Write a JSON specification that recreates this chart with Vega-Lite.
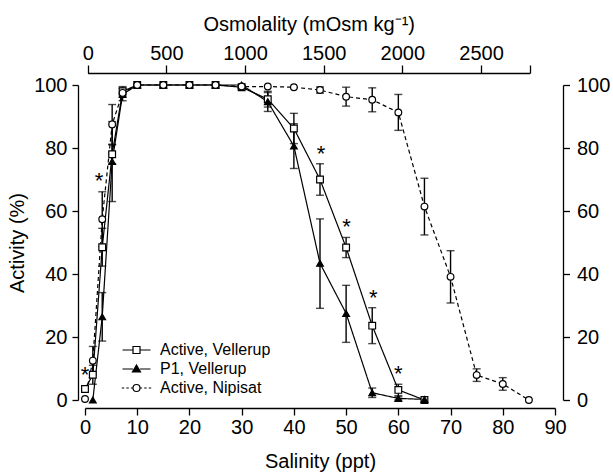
{
  "$schema": "https://vega.github.io/schema/vega-lite/v6.json",
  "width": 470,
  "height": 315,
  "autosize": {"type": "none"},
  "padding": {"left": 85, "top": 85, "right": 58, "bottom": 74},
  "background": "white",
  "config": {
    "view": {"stroke": null},
    "font": "Liberation Sans",
    "axis": {
      "grid": false,
      "labelFont": "Liberation Sans",
      "titleFont": "Liberation Sans",
      "labelFontSize": 20,
      "titleFontSize": 20,
      "titleFontWeight": "normal",
      "labelColor": "black",
      "titleColor": "black",
      "domainColor": "black",
      "tickColor": "black",
      "domainWidth": 1.3,
      "tickWidth": 1.3,
      "labelFlush": false,
      "labelOverlap": false
    },
    "legend": {
      "orient": "none",
      "legendX": 43.5,
      "legendY": 257,
      "title": null,
      "padding": 0,
      "labelFont": "Liberation Sans",
      "labelFontSize": 16,
      "labelColor": "black",
      "labelOffset": 15.5,
      "symbolSize": 49,
      "symbolStrokeColor": "black",
      "symbolStrokeWidth": 1.2,
      "symbolOpacity": 1,
      "rowPadding": 3
    }
  },
  "datasets": {
    "main": [
      {"series": "Active, Vellerup", "s": 0, "a": 3.5, "lo": 2.5, "hi": 4.5},
      {"series": "Active, Vellerup", "s": 1.5, "a": 8, "lo": 5, "hi": 11},
      {"series": "Active, Vellerup", "s": 3.3, "a": 48.5, "lo": 42.5, "hi": 54.5},
      {"series": "Active, Vellerup", "s": 5.2, "a": 78, "lo": 75, "hi": 81},
      {"series": "Active, Vellerup", "s": 7.2, "a": 98, "lo": 96.5, "hi": 99.5},
      {"series": "Active, Vellerup", "s": 10, "a": 100, "lo": null, "hi": null},
      {"series": "Active, Vellerup", "s": 15, "a": 100, "lo": null, "hi": null},
      {"series": "Active, Vellerup", "s": 20, "a": 100, "lo": null, "hi": null},
      {"series": "Active, Vellerup", "s": 25, "a": 100, "lo": null, "hi": null},
      {"series": "Active, Vellerup", "s": 30, "a": 99.3, "lo": 98.8, "hi": 99.8},
      {"series": "Active, Vellerup", "s": 35, "a": 95.5, "lo": 93, "hi": 98},
      {"series": "Active, Vellerup", "s": 40, "a": 86.2, "lo": 81.4, "hi": 91},
      {"series": "Active, Vellerup", "s": 45, "a": 70, "lo": 65, "hi": 75},
      {"series": "Active, Vellerup", "s": 50, "a": 48.4, "lo": 45.2, "hi": 51.6},
      {"series": "Active, Vellerup", "s": 55, "a": 23.6, "lo": 17.9, "hi": 29.3},
      {"series": "Active, Vellerup", "s": 60, "a": 3.2, "lo": 1.4, "hi": 5},
      {"series": "Active, Vellerup", "s": 65, "a": 0, "lo": null, "hi": null},
      {"series": "P1, Vellerup", "s": 1.5, "a": 0, "lo": null, "hi": null},
      {"series": "P1, Vellerup", "s": 3.3, "a": 26.4, "lo": 18.7, "hi": 34.1},
      {"series": "P1, Vellerup", "s": 5.2, "a": 75.7, "lo": 63, "hi": 88.4},
      {"series": "P1, Vellerup", "s": 7.2, "a": 97, "lo": 95, "hi": 99},
      {"series": "P1, Vellerup", "s": 10, "a": 100, "lo": null, "hi": null},
      {"series": "P1, Vellerup", "s": 15, "a": 100, "lo": null, "hi": null},
      {"series": "P1, Vellerup", "s": 20, "a": 100, "lo": null, "hi": null},
      {"series": "P1, Vellerup", "s": 25, "a": 100, "lo": null, "hi": null},
      {"series": "P1, Vellerup", "s": 30, "a": 100, "lo": null, "hi": null},
      {"series": "P1, Vellerup", "s": 35, "a": 94.7, "lo": 91.6, "hi": 97.6},
      {"series": "P1, Vellerup", "s": 40, "a": 80.6, "lo": 73.5, "hi": 87.7},
      {"series": "P1, Vellerup", "s": 45, "a": 43.4, "lo": 29.1, "hi": 57.5},
      {"series": "P1, Vellerup", "s": 50, "a": 27.5, "lo": 18.3, "hi": 36.4},
      {"series": "P1, Vellerup", "s": 55, "a": 2.3, "lo": 0.8, "hi": 3.8},
      {"series": "P1, Vellerup", "s": 60, "a": 0.5, "lo": 0, "hi": 1},
      {"series": "P1, Vellerup", "s": 65, "a": 0.2, "lo": null, "hi": null},
      {"series": "Active, Nipisat", "s": 0, "a": 0.3, "lo": null, "hi": null},
      {"series": "Active, Nipisat", "s": 1.5, "a": 12.5, "lo": 8, "hi": 17},
      {"series": "Active, Nipisat", "s": 3.3, "a": 57.4, "lo": 48.7, "hi": 66.1},
      {"series": "Active, Nipisat", "s": 5.2, "a": 87.5, "lo": 81.2, "hi": 93.8},
      {"series": "Active, Nipisat", "s": 7.2, "a": 97.5, "lo": null, "hi": null},
      {"series": "Active, Nipisat", "s": 10, "a": 100, "lo": null, "hi": null},
      {"series": "Active, Nipisat", "s": 15, "a": 100, "lo": null, "hi": null},
      {"series": "Active, Nipisat", "s": 20, "a": 100, "lo": null, "hi": null},
      {"series": "Active, Nipisat", "s": 25, "a": 100, "lo": null, "hi": null},
      {"series": "Active, Nipisat", "s": 30, "a": 99.5, "lo": null, "hi": null},
      {"series": "Active, Nipisat", "s": 35, "a": 99.5, "lo": null, "hi": null},
      {"series": "Active, Nipisat", "s": 40, "a": 99.3, "lo": null, "hi": null},
      {"series": "Active, Nipisat", "s": 45, "a": 98.4, "lo": 97.4, "hi": 99.4},
      {"series": "Active, Nipisat", "s": 50, "a": 96.3, "lo": 93.3, "hi": 99.3},
      {"series": "Active, Nipisat", "s": 55, "a": 95.3, "lo": 91.5, "hi": 99.1},
      {"series": "Active, Nipisat", "s": 60, "a": 91.3, "lo": 85.6, "hi": 97},
      {"series": "Active, Nipisat", "s": 65, "a": 61.4, "lo": 52.4, "hi": 70.4},
      {"series": "Active, Nipisat", "s": 70, "a": 39.1, "lo": 30.8, "hi": 47.4},
      {"series": "Active, Nipisat", "s": 75, "a": 7.9, "lo": 5.9, "hi": 9.9},
      {"series": "Active, Nipisat", "s": 80, "a": 5.1, "lo": 3.1, "hi": 7.1},
      {"series": "Active, Nipisat", "s": 85, "a": 0, "lo": null, "hi": null}
    ],
    "stars": [
      {"s": 0, "a": 9.5},
      {"s": 2.7, "a": 71},
      {"s": 45.2, "a": 79.6},
      {"s": 50.1, "a": 56.6},
      {"s": 55.2, "a": 33.9},
      {"s": 60, "a": 10}
    ]
  },
  "layer": [
    {
      "data": {"name": "main"},
      "mark": {"type": "line", "color": "black", "strokeWidth": 1.2},
      "encoding": {
        "x": {
          "field": "s", "type": "quantitative",
          "scale": {"domain": [0, 90], "nice": false, "zero": false},
          "axis": {"orient": "bottom", "offset": 8, "values": [0, 10, 20, 30, 40, 50, 60, 70, 80, 90], "tickSize": 7, "labelPadding": 2, "title": "Salinity (ppt)", "titlePadding": 14}
        },
        "y": {
          "field": "a", "type": "quantitative",
          "scale": {"domain": [0, 100], "nice": false},
          "axis": {"orient": "left", "offset": 7, "values": [0, 20, 40, 60, 80, 100], "tickSize": 6, "labelPadding": 5, "title": "Activity (%)", "titlePadding": 6}
        },
        "detail": {"field": "series"},
        "strokeDash": {
          "field": "series", "type": "nominal",
          "scale": {"domain": ["Active, Vellerup", "P1, Vellerup", "Active, Nipisat"], "range": [[1, 0], [1, 0], [4, 3]]},
          "legend": null
        }
      }
    },
    {
      "data": {"name": "main"},
      "transform": [{"filter": "isValid(datum.lo)"}],
      "mark": {"type": "errorbar", "ticks": true, "thickness": 1.4, "size": 8, "color": "black"},
      "encoding": {
        "x": {"field": "s", "type": "quantitative", "scale": {"domain": [0, 90], "nice": false, "zero": false}, "axis": null},
        "y": {"field": "lo", "type": "quantitative", "scale": {"domain": [0, 100], "nice": false}, "axis": null},
        "y2": {"field": "hi"}
      }
    },
    {
      "data": {"name": "main"},
      "mark": {"type": "point", "stroke": "black", "strokeWidth": 1.2, "size": 45, "opacity": 1},
      "encoding": {
        "x": {"field": "s", "type": "quantitative", "scale": {"domain": [0, 90], "nice": false, "zero": false}, "axis": null},
        "y": {
          "field": "a", "type": "quantitative",
          "scale": {"domain": [0, 100], "nice": false},
          "axis": {"orient": "right", "offset": 8, "values": [0, 20, 40, 60, 80, 100], "tickSize": 6.5, "labelPadding": 7, "title": null}
        },
        "shape": {
          "field": "series", "type": "nominal",
          "scale": {"domain": ["Active, Vellerup", "P1, Vellerup", "Active, Nipisat"], "range": ["square", "triangle-up", "circle"]},
          "legend": null
        },
        "fill": {
          "field": "series", "type": "nominal",
          "scale": {"domain": ["Active, Vellerup", "P1, Vellerup", "Active, Nipisat"], "range": ["white", "black", "white"]},
          "legend": null
        }
      }
    },
    {
      "data": {"name": "stars"},
      "mark": {"type": "text", "text": "*", "fontSize": 22, "font": "Liberation Sans", "baseline": "alphabetic", "dy": 12, "color": "black"},
      "encoding": {
        "x": {"field": "s", "type": "quantitative", "scale": {"domain": [0, 90], "nice": false, "zero": false}, "axis": null},
        "y": {"field": "a", "type": "quantitative", "scale": {"domain": [0, 100], "nice": false}, "axis": null}
      }
    },
    {
      "data": {"name": "main"},
      "transform": [{"filter": "false"}],
      "mark": {"type": "point", "stroke": "black", "strokeWidth": 1.2, "opacity": 1},
      "encoding": {
        "shape": {
          "field": "series", "type": "nominal",
          "scale": {"domain": ["Active, Vellerup", "P1, Vellerup", "Active, Nipisat"], "range": [
            "M-4,0H-1M1,0H4M-1,-1H1V1H-1Z",
            "M-4,0H-1M1,0H4M0,-1.15L1.15,0.85H-1.15Z",
            "M-4.2,0H-3.5M-2.9,0H-2.2M-1.6,0H-1M1,0H1.6M2.2,0H2.9M3.5,0H4.2M1,0A1,1,0,1,1,-1,0A1,1,0,1,1,1,0Z"
          ]},
          "legend": {"encode": {"symbols": {"update": {"stroke": {"value": "black"}, "strokeWidth": {"value": 1.2}, "opacity": {"value": 1}, "fillOpacity": {"value": 1}, "strokeOpacity": {"value": 1}}}}}
        },
        "fill": {
          "field": "series", "type": "nominal",
          "scale": {"domain": ["Active, Vellerup", "P1, Vellerup", "Active, Nipisat"], "range": ["white", "black", "white"]},
          "legend": {"encode": {"symbols": {"update": {"stroke": {"value": "black"}, "strokeWidth": {"value": 1.2}, "opacity": {"value": 1}, "fillOpacity": {"value": 1}, "strokeOpacity": {"value": 1}}}}}
        }
      }
    },
    {
      "data": {"name": "main"},
      "transform": [{"filter": "false"}],
      "mark": {"type": "point", "opacity": 0},
      "encoding": {
        "x": {
          "field": "osm", "type": "quantitative",
          "scale": {"domain": [0, 2810], "range": [2.7, 444.8], "nice": false, "zero": false},
          "axis": {"orient": "top", "offset": 12, "values": [0, 500, 1000, 1500, 2000, 2500, 2810], "labelExpr": "datum.value == 2810 ? '' : datum.label", "format": "d", "tickSize": 8, "labelPadding": 2, "title": "Osmolality (mOsm kg⁻¹)", "titlePadding": 9}
        }
      }
    }
  ],
  "resolve": {"scale": {"x": "independent", "y": "independent", "shape": "independent", "fill": "independent", "strokeDash": "independent"}}
}
